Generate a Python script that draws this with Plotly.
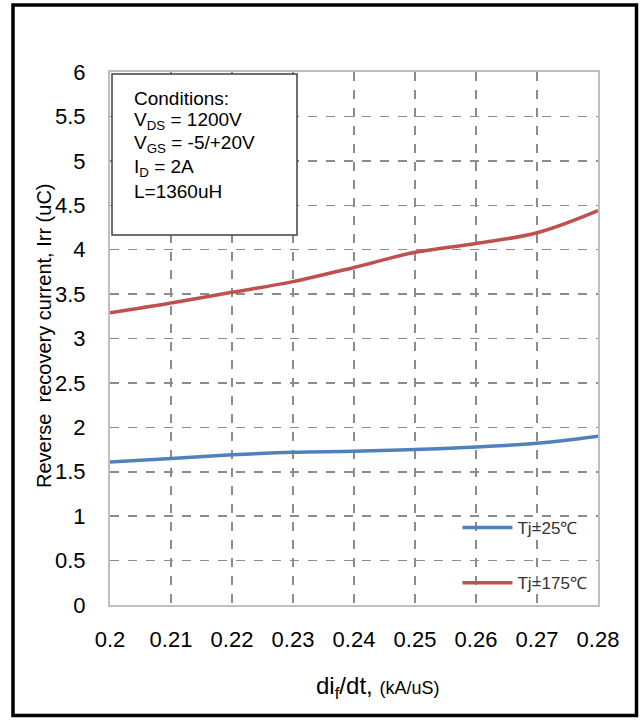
import plotly.graph_objects as go

x_vals = [0.20, 0.21, 0.22, 0.23, 0.24, 0.25, 0.26, 0.27, 0.28]
irr_25 = [1.61, 1.65, 1.69, 1.72, 1.73, 1.75, 1.78, 1.82, 1.90]
irr_175 = [3.29, 3.40, 3.52, 3.64, 3.80, 3.97, 4.07, 4.19, 4.44]
series_names = ["Tj=25℃", "Tj=175℃"]
x_ticks = [0.2, 0.21, 0.22, 0.23, 0.24, 0.25, 0.26, 0.27, 0.28]
y_ticks = [0, 0.5, 1, 1.5, 2, 2.5, 3, 3.5, 4, 4.5, 5, 5.5, 6]
condition_lines = ["Conditions:", "V<sub>DS</sub> = 1200V", "V<sub>GS</sub> = -5/+20V",
                   "I<sub>D</sub> = 2A", "L=1360uH"]

FONT = "Liberation Sans, Arial, sans-serif"

# page geometry (pixels) -> paper coordinates
W, H = 640, 720
ML, MR, MT, MB = 110, 42, 72, 115
PW, PH = W - ML - MR, H - MT - MB


def px(xp):
    return (xp - ML) / PW


def py(yp):
    return (H - MB - yp) / PH


fig = go.Figure()
fig.add_trace(go.Scatter(x=x_vals, y=irr_25, mode="lines", name=series_names[0],
                         line=dict(color="#4F81BD", width=3.5, shape="spline"),
                         legendgroup="a"))
fig.add_trace(go.Scatter(x=x_vals, y=irr_175, mode="lines", name=series_names[1],
                         line=dict(color="#C0504D", width=3.5, shape="spline"),
                         legendgroup="b"))

axis_common = dict(showline=True, linecolor="#BFBFBF", linewidth=2, mirror=True,
                   showgrid=True, gridcolor="#8C8C8C", griddash="dash", gridwidth=1.5,
                   zeroline=False, ticks="", tickfont=dict(family=FONT, size=22, color="#000"))

fig.update_xaxes(range=[0.2, 0.28], tickvals=x_ticks,
                 ticktext=[f"{v:g}" for v in x_ticks], ticklabelstandoff=14, **axis_common)
fig.update_yaxes(range=[0, 6], tickvals=y_ticks,
                 ticktext=[f"{v:g}" for v in y_ticks], ticklabelstandoff=18, **axis_common)

annotations = []
line_centers = [98, 121, 144.5, 168, 191]
for txt, yc in zip(condition_lines, line_centers):
    annotations.append(dict(text=txt, xref="paper", yref="paper", x=px(131.5), y=py(yc),
                            xanchor="left", yanchor="middle", align="left", showarrow=False,
                            font=dict(family=FONT, size=19, color="#000")))
annotations.append(dict(text="Reverse  recovery current, Irr (uC)", xref="paper", yref="paper",
                        x=px(43.5), y=py(335.5), textangle=-90, xanchor="center",
                        yanchor="middle", showarrow=False,
                        font=dict(family=FONT, size=20, color="#000")))
annotations.append(dict(text="di<sub>f</sub>/dt, <span style='font-size:18px'>(kA/uS)</span>",
                        xref="paper", yref="paper", x=px(377), y=py(687), xanchor="center",
                        yanchor="middle", showarrow=False,
                        font=dict(family=FONT, size=24, color="#000")))

fig.update_layout(
    width=W, height=H,
    margin=dict(l=ML, r=MR, t=MT, b=MB),
    paper_bgcolor="white", plot_bgcolor="white",
    font=dict(family=FONT, color="#000"),
    showlegend=True,
    legend=dict(x=0.712, y=py(510), xanchor="left", yanchor="top",
                bgcolor="rgba(0,0,0,0)", borderwidth=0, tracegroupgap=30,
                traceorder="grouped", itemwidth=50,
                font=dict(family=FONT, size=17, color="#333")),
    shapes=[
        dict(type="rect", xref="paper", yref="paper", x0=px(13), x1=px(636.5),
             y0=py(715.5), y1=py(5), line=dict(color="#000", width=3.5), layer="above"),
        dict(type="rect", xref="paper", yref="paper", x0=px(112), x1=px(297),
             y0=py(235), y1=py(74), line=dict(color="#404040", width=1.5),
             fillcolor="white", layer="above"),
    ],
    annotations=annotations,
)

fig.write_html("out.html", config={"displayModeBar": False, "staticPlot": True},
               post_script="document.body.style.margin='0';document.body.style.padding='0';")
